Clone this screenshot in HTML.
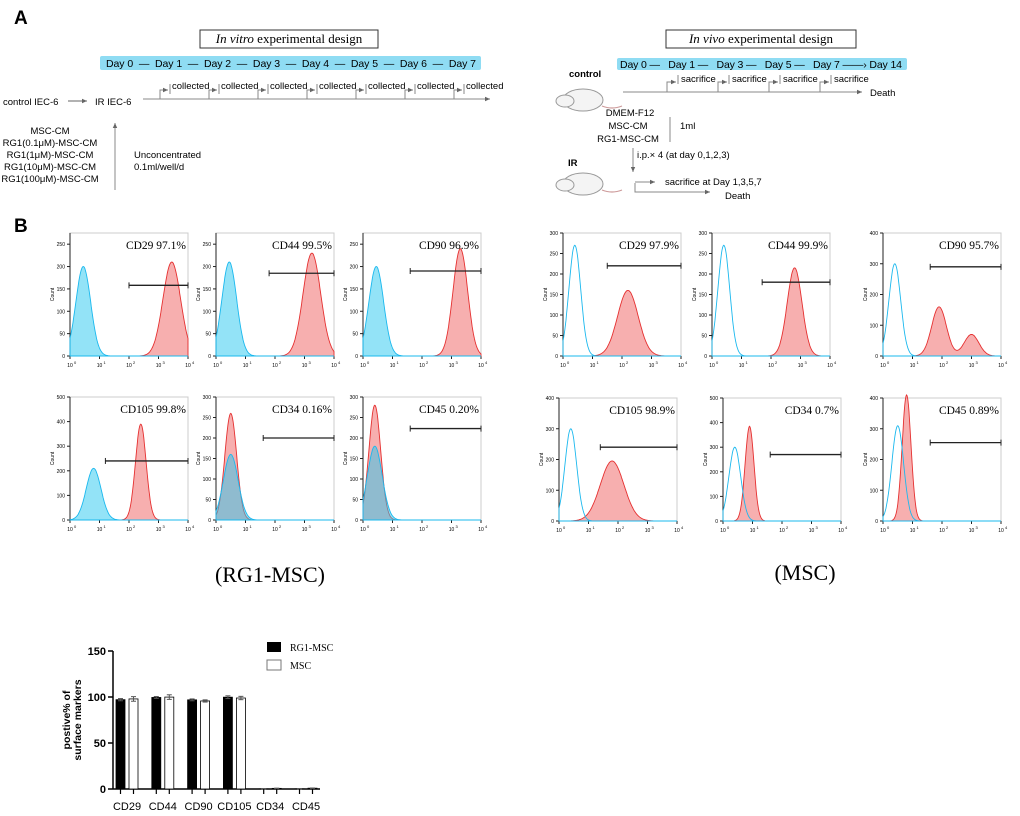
<!DOCTYPE html>
<html><head><meta charset="utf-8"><style>
body{margin:0;background:#fff;}
svg{display:block;font-family:"Liberation Sans",sans-serif;}
.serif{font-family:"Liberation Serif",serif;}
</style></head><body>
<svg id="fig" width="1020" height="816" viewBox="0 0 1020 816" xmlns="http://www.w3.org/2000/svg">
<defs><marker id="ar" markerWidth="6" markerHeight="6" refX="5" refY="3" orient="auto"><path d="M0,0.8 L5,3 L0,5.2z" fill="#666"/></marker></defs>
<g>
<text x="14" y="24" font-size="19" font-weight="bold">A</text>
<rect x="200" y="30" width="178" height="18" fill="#fff" stroke="#333"/>
<text x="289" y="43" font-size="13" text-anchor="middle" class="serif"><tspan font-style="italic">In vitro</tspan> experimental design</text>
<rect x="100" y="56" width="381" height="14" rx="2" fill="#8fdcf3"/>
<text x="106" y="67" font-size="10.5" textLength="370" xml:space="preserve">Day 0  —  Day 1  —  Day 2  —  Day 3  —  Day 4  —  Day 5  —  Day 6  —  Day 7</text>
<line x1="143" y1="99" x2="490" y2="99" stroke="#888" marker-end="url(#ar)"/>
<g id="coll"></g>
<text x="3" y="105" font-size="9.5">control IEC-6</text>
<line x1="68" y1="101" x2="87" y2="101" stroke="#666" marker-end="url(#ar)"/>
<text x="95" y="105" font-size="9.5">IR IEC-6</text>
<line x1="115" y1="190" x2="115" y2="123" stroke="#888" marker-end="url(#ar)"/>
<g font-size="9.5" text-anchor="middle">
<text x="50" y="134">MSC-CM</text><text x="50" y="146">RG1(0.1μM)-MSC-CM</text><text x="50" y="158">RG1(1μM)-MSC-CM</text><text x="50" y="170">RG1(10μM)-MSC-CM</text><text x="50" y="182">RG1(100μM)-MSC-CM</text></g>
<text x="134" y="158" font-size="9.5">Unconcentrated</text>
<text x="134" y="170" font-size="9.5">0.1ml/well/d</text>

<rect x="666" y="30" width="190" height="18" fill="#fff" stroke="#333"/>
<text x="761" y="43" font-size="13" text-anchor="middle" class="serif"><tspan font-style="italic">In vivo</tspan> experimental design</text>
<rect x="617" y="58" width="290" height="12" rx="2" fill="#8fdcf3"/>
<text x="620" y="68" font-size="10.5" textLength="282" xml:space="preserve">Day 0 —   Day 1 —   Day 3 —   Day 5 —   Day 7 ——› Day 14</text>
<line x1="623" y1="92" x2="862" y2="92" stroke="#888" marker-end="url(#ar)"/>
<g id="sac"></g>
<text x="870" y="96" font-size="9.5">Death</text>
<text x="569" y="77" font-size="9.5" font-weight="bold">control</text>
<g id="rat1"></g>
<g font-size="9.5" text-anchor="middle"><text x="630" y="116">DMEM-F12</text><text x="628" y="129">MSC-CM</text><text x="628" y="142">RG1-MSC-CM</text></g>
<line x1="670" y1="117" x2="670" y2="142" stroke="#888"/>
<text x="680" y="129" font-size="9.5">1ml</text>
<line x1="633" y1="148" x2="633" y2="172" stroke="#888" marker-end="url(#ar)"/>
<text x="637" y="158" font-size="9.5">i.p.× 4 (at day 0,1,2,3)</text>
<text x="568" y="166" font-size="9.5" font-weight="bold">IR</text>
<g id="rat2"></g>
<path d="M635,183 V192 H710" fill="none" stroke="#888" marker-end="url(#ar)"/>
<line x1="635" y1="182" x2="655" y2="182" stroke="#888" marker-end="url(#ar)"/>
<text x="665" y="185" font-size="9.5">sacrifice at Day 1,3,5,7</text>
<text x="725" y="199" font-size="9.5">Death</text>
</g>
<text x="14" y="232" font-size="19" font-weight="bold">B</text>
<g id="hists"></g>
<text x="270" y="582" font-size="22" text-anchor="middle" class="serif">(RG1-MSC)</text>
<text x="805" y="580" font-size="22" text-anchor="middle" class="serif">(MSC)</text>
<g id="bar"></g>
</svg>
<script>
const barCategories=["CD29","CD44","CD90","CD105","CD34","CD45"];
const rg1Values=[97.1,99.5,96.9,99.8,0.16,0.20];
const mscValues=[97.9,99.9,95.7,98.9,0.7,0.89];
const rg1Err=[1.2,1.0,1.0,1.5,0.1,0.1];
const mscErr=[2.5,2.5,1.2,1.8,0.2,0.2];
const yTicks=[0,50,100,150];
const histLabels=["CD29 97.1%","CD44 99.5%","CD90 96.9%","CD105 99.8%","CD34 0.16%","CD45 0.20%","CD29 97.9%","CD44 99.9%","CD90 95.7%","CD105 98.9%","CD34 0.7%","CD45 0.89%"];
const histYMax=[275,275,275,500,300,300,300,300,400,400,500,400];
const blueCenter=[0.45,0.45,0.45,0.8,0.5,0.4,0.4,0.4,0.4,0.4,0.4,0.5];
const blueHeight=[200,210,200,210,160,180,270,270,300,300,300,310];
const redCenter=[3.45,3.25,3.3,2.4,0.5,0.4,2.2,2.8,1.9,1.8,0.9,0.8];
const redHeight=[210,230,240,390,260,280,160,215,160,195,385,410];
const redWidth=[0.3,0.3,0.25,0.18,0.2,0.2,0.35,0.25,0.25,0.4,0.15,0.15];
const red2Center=[0,0,0,0,0,0,0,0,3.0,0,0,0];
const red2Height=[0,0,0,0,0,0,0,0,70,0,0,0];
const gateStart=[2.0,1.8,1.6,1.2,1.6,1.6,1.5,1.7,1.6,1.4,1.6,1.6];
const gateCount=[158,185,190,240,200,223,220,180,290,240,270,255];

const NS="http://www.w3.org/2000/svg";
function mk(tag,attrs,parent){const e=document.createElementNS(NS,tag);for(const k in attrs)e.setAttribute(k,attrs[k]);parent.appendChild(e);return e;}

const coll=document.getElementById('coll');
for(let i=0;i<7;i++){const x=160+i*49;
 const p=mk('path',{d:`M${x},99 V90 H${x+8}`,fill:'none',stroke:'#888','marker-end':'url(#ar)'},coll);
 
 mk('line',{x1:x+10,y1:84,x2:x+10,y2:94,stroke:'#888'},coll);
 const t=mk('text',{x:x+12,y:89,'font-size':'9.5'},coll);t.textContent='collected';
 }
const sac=document.getElementById('sac');
for(let i=0;i<4;i++){const x=667+i*51;
 mk('path',{d:`M${x},92 V82 H${x+9}`,fill:'none',stroke:'#888','marker-end':'url(#ar)'},sac);
 mk('line',{x1:x+11,y1:75,x2:x+11,y2:84,stroke:'#888'},sac);
 const t=mk('text',{x:x+14,y:82,'font-size':'9.5'},sac);t.textContent='sacrifice';
 }
function rat(g,x,y){
 mk('ellipse',{cx:x+28,cy:y+12,rx:20,ry:11,fill:'#f4f4f4',stroke:'#999'},g);
 mk('ellipse',{cx:x+10,cy:y+13,rx:9,ry:6,fill:'#f4f4f4',stroke:'#999'},g);
 mk('path',{d:`M${x+47},${y+18} q10,4 20,0`,fill:'none',stroke:'#c99','stroke-width':1.2},g);}
rat(document.getElementById('rat1'),555,88);rat(document.getElementById('rat2'),555,172);

const panels=[[70,233],[216,233],[363,233],[70,397],[216,397],[363,397],[563,233],[712,233],[883,233],[559,398],[723,398],[883,398]];
const PW=118,PH=123;
const hists=document.getElementById('hists');
function gauss(x,c,h,w){return h*Math.exp(-0.5*((x-c)/w)**2);}
histLabels.forEach((lab,i)=>{
 const [px,py]=panels[i];const right=i>=6;
 const g=mk('g',{},hists);
 
 
 const xs=v=>px+v/4*PW, ys=c=>py+PH-c/histYMax[i]*PH;
 mk('rect',{x:px,y:py,width:PW,height:PH,fill:'none',stroke:'#ccc'},g);
 mk('line',{x1:px,y1:py,x2:px,y2:py+PH,stroke:'#222'},g);
 mk('line',{x1:px,y1:py+PH,x2:px+PW,y2:py+PH,stroke:'#222'},g);
 const step=histYMax[i]>=400?100:50;
 for(let c=0;c<=histYMax[i];c+=step){mk('line',{x1:px-3,y1:ys(c),x2:px,y2:ys(c),stroke:'#222'},g);
  const t=mk('text',{x:px-5,y:ys(c)+2,'font-size':'5','text-anchor':'end'},g);t.textContent=c;}
 for(let d=0;d<=4;d++){mk('line',{x1:xs(d),y1:py+PH,x2:xs(d),y2:py+PH+3,stroke:'#222'},g);
  const t=mk('text',{x:xs(d),y:py+PH+11,'font-size':'5','text-anchor':'middle'},g);t.textContent='10';
  const s=mk('text',{x:xs(d)+4,y:py+PH+8,'font-size':'4'},g);s.textContent=d;}
 const yl=mk('text',{x:px-16,y:py+PH/2,'font-size':'5','text-anchor':'middle',transform:`rotate(-90 ${px-16} ${py+PH/2})`},g);yl.textContent='Count';
 const bw=right?0.2:0.25;
 let bp=`M${px},${py+PH}`,rp=`M${px},${py+PH}`;
 for(let k=0;k<=200;k++){const v=k/50;
  bp+=` L${xs(v).toFixed(1)},${ys(gauss(v,blueCenter[i],blueHeight[i],bw)).toFixed(1)}`;
  rp+=` L${xs(v).toFixed(1)},${ys(gauss(v,redCenter[i],redHeight[i],redWidth[i])+gauss(v,red2Center[i],red2Height[i],0.25)).toFixed(1)}`;}
 bp+=` L${px+PW},${py+PH}Z`;rp+=` L${px+PW},${py+PH}Z`;
 const r=mk('path',{d:rp,fill:'rgba(240,110,110,0.55)',stroke:'#e53030','stroke-width':0.9},g);
 
 const b=mk('path',{d:bp,fill:right?'none':'rgba(40,200,240,0.5)',stroke:'#1ab8ee','stroke-width':0.9},g);
 
 const gy=ys(gateCount[i]);
 mk('line',{x1:xs(gateStart[i]),y1:gy,x2:px+PW,y2:gy,stroke:'#222','stroke-width':1.3},g);
 mk('line',{x1:xs(gateStart[i]),y1:gy-3,x2:xs(gateStart[i]),y2:gy+3,stroke:'#222'},g);
 mk('line',{x1:px+PW,y1:gy-3,x2:px+PW,y2:gy+3,stroke:'#222'},g);
 const t=mk('text',{x:px+PW-2,y:py+16,'font-size':'11.5','text-anchor':'end',class:'serif'},g);t.textContent=lab;
 
});

const bar=document.getElementById('bar');

const X0=113,Y0=789,YT=651,XE=320;
const yS=v=>Y0-(v/150)*(Y0-YT);
const catX=i=>127+i*35.8;
mk('line',{x1:X0,y1:YT,x2:X0,y2:Y0,stroke:'#000','stroke-width':1.5},bar);
mk('line',{x1:X0,y1:Y0,x2:XE,y2:Y0,stroke:'#000','stroke-width':1.5},bar);
yTicks.forEach(v=>{mk('line',{x1:X0-5,y1:yS(v),x2:X0,y2:yS(v),stroke:'#000','stroke-width':1.5},bar);
 const t=mk('text',{x:X0-7,y:yS(v)+4,'font-size':'11','font-weight':'bold','text-anchor':'end'},bar);t.textContent=v;});
const yt=mk('text',{x:70,y:720,'font-size':'10.5','font-weight':'bold','text-anchor':'middle',transform:'rotate(-90 70 720)'},bar);

mk('tspan',{x:70,dy:0},yt).textContent='postive% of';mk('tspan',{x:70,dy:11},yt).textContent='surface markers';
barCategories.forEach((c,i)=>{const cx=catX(i);
 [[rg1Values,rg1Err,-6.5,'#000'],[mscValues,mscErr,6.5,'#fff']].forEach(([vals,errs,off,fill],s)=>{
  const x=cx+off,v=vals[i];
  const rc=mk('rect',{x:x-4.5,y:yS(v),width:9,height:Y0-yS(v),fill:fill,stroke:'#000','stroke-width':0.8},bar);
  
  const e=errs[i];
  mk('line',{x1:x,y1:yS(v+e),x2:x,y2:yS(v-e),stroke:'#555'},bar);
  mk('line',{x1:x-2.5,y1:yS(v+e),x2:x+2.5,y2:yS(v+e),stroke:'#555'},bar);
  mk('line',{x1:x-2.5,y1:yS(v-e),x2:x+2.5,y2:yS(v-e),stroke:'#555'},bar);
  mk('line',{x1:x,y1:Y0,x2:x,y2:Y0+5,stroke:'#000','stroke-width':1.2},bar);});
 const t=mk('text',{x:cx,y:810,'font-size':'11','text-anchor':'middle'},bar);t.textContent=c;
 });
mk('rect',{x:267,y:642,width:14,height:10,fill:'#000'},bar);
let lt=mk('text',{x:290,y:651,'font-size':'10',class:'serif'},bar);lt.textContent='RG1-MSC';

mk('rect',{x:267,y:660,width:14,height:10,fill:'#fff',stroke:'#777'},bar);
lt=mk('text',{x:290,y:669,'font-size':'10',class:'serif'},bar);lt.textContent='MSC';

</script>
</body></html>
